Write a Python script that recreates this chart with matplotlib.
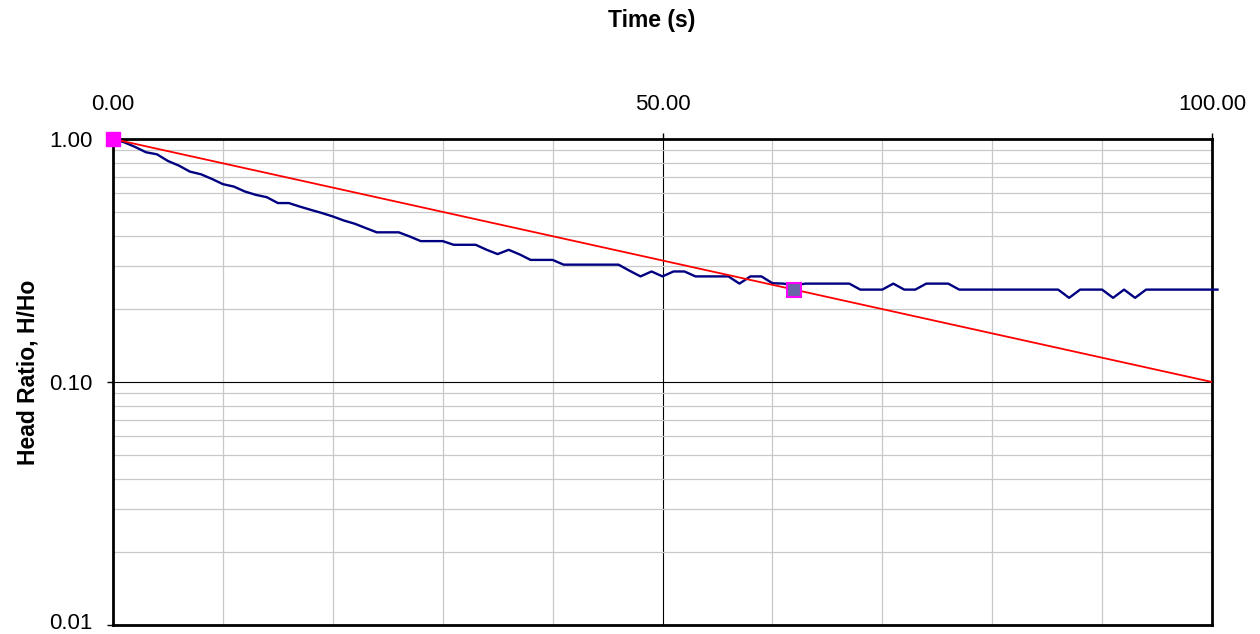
import numpy as np
import matplotlib
matplotlib.use("Agg")
import matplotlib.pyplot as plt
import matplotlib.transforms as mtransforms
from matplotlib.ticker import MultipleLocator, LogLocator, FixedLocator, NullFormatter

plt.rcParams["font.family"] = ["Liberation Sans", "DejaVu Sans"]

# measured head ratio, one reading per second
time_s = list(range(0, 101))
head_ratio = [
    1.000, 0.970, 0.928, 0.882, 0.865, 0.812, 0.777, 0.734, 0.716, 0.685,
    0.652, 0.637, 0.608, 0.589, 0.576, 0.545, 0.545, 0.527, 0.511, 0.496,
    0.480, 0.462, 0.448, 0.430, 0.413, 0.413, 0.413, 0.397, 0.380, 0.380,
    0.380, 0.367, 0.367, 0.367, 0.350, 0.336, 0.350, 0.335, 0.318, 0.318,
    0.318, 0.304, 0.304, 0.304, 0.304, 0.304, 0.304, 0.287, 0.272, 0.285,
    0.272, 0.285, 0.285, 0.272, 0.272, 0.272, 0.272, 0.254, 0.272, 0.272,
    0.255, 0.254, 0.250, 0.254, 0.254, 0.254, 0.254, 0.254, 0.240, 0.240,
    0.240, 0.254, 0.240, 0.240, 0.254, 0.254, 0.254, 0.240, 0.240, 0.240,
    0.240, 0.240, 0.240, 0.240, 0.240, 0.240, 0.240, 0.222, 0.240, 0.240,
    0.240, 0.222, 0.240, 0.222, 0.240, 0.240, 0.240, 0.240, 0.240, 0.240,
    0.240,
]
time_s.append(100.5)
head_ratio.append(0.240)

# straight-line fit through the two match points
fit_time = [0, 100]
fit_ratio = [1.0, 0.1]
match_time = [0, 62]
match_ratio = [1.0, 0.24]

fig = plt.figure(figsize=(12.6, 6.34), dpi=100)
ax = fig.add_axes([113 / 1260, 9 / 634, 1099 / 1260, 486 / 634])

ax.set_yscale("log")
ax.set_xlim(0, 100)
ax.set_ylim(0.01, 1.0)

# grid
ax.xaxis.set_major_locator(FixedLocator([0, 50, 100]))
ax.xaxis.set_minor_locator(MultipleLocator(10))
ax.yaxis.set_major_locator(FixedLocator([0.01, 0.1, 1.0]))
ax.yaxis.set_minor_locator(LogLocator(base=10, subs=np.arange(2, 10)))
ax.yaxis.set_minor_formatter(NullFormatter())
ax.grid(which="minor", color="#c8c8c8", linewidth=0.9)
ax.grid(which="major", color="black", linewidth=0.8)
ax.set_axisbelow(True)

ax.plot(time_s, head_ratio, color="#000080", linewidth=1.7, clip_on=False, zorder=3)
ax.plot(fit_time, fit_ratio, color="#ff0000", linewidth=1.3, zorder=4)
ax.plot(match_time[:1], match_ratio[:1], "s", color="#ff00ff", markersize=10,
        clip_on=False, zorder=5)
ax.plot(match_time[1:], match_ratio[1:], "s", markerfacecolor="#6b66a8",
        markeredgecolor="#ff00ff", markeredgewidth=1.5, markersize=9.5, zorder=5)

ax.xaxis.tick_top()
ax.set_xticklabels([f"{v:.2f}" for v in [0, 50, 100]])
ax.set_yticklabels([f"{v:.2f}" for v in [0.01, 0.1, 1.0]])
ax.tick_params(axis="x", which="major", direction="out", length=4.5, width=1,
               pad=13, labelsize=16)
ax.tick_params(axis="y", which="major", direction="out", length=4.5, width=1,
               pad=10, labelsize=16)
ax.tick_params(which="minor", length=0)

# keep the bottom tick label inside the canvas
lowest = ax.get_yticklabels()[0]
lowest.set_transform(lowest.get_transform() +
                     mtransforms.ScaledTranslation(0, 3 / 72, fig.dpi_scale_trans))

for s in ax.spines.values():
    s.set_linewidth(2)
    s.set_color("black")

fig.text(652 / 1260, 1 - 21 / 634, "Time (s)", ha="center", va="center",
         fontsize=16.5, fontweight="bold")
fig.text(28 / 1260, 1 - 372 / 634, "Head Ratio, H/Ho", ha="center", va="center",
         rotation=90, fontsize=16.5, fontweight="bold")

fig.savefig("out.png", dpi=100)
